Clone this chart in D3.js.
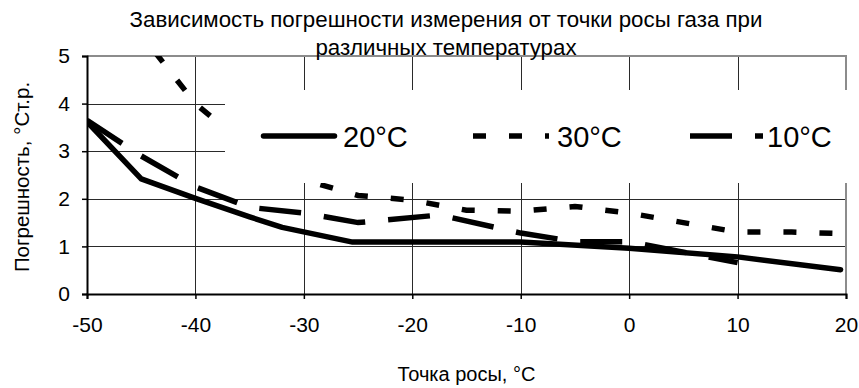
<!DOCTYPE html>
<html>
<head>
<meta charset="utf-8">
<script src="https://cdn.jsdelivr.net/npm/d3@7"></script>
<style>
  html, body { margin: 0; padding: 0; background: #fff; }
  svg { display: block; }
  text { font-family: "Liberation Sans", Arial, sans-serif; fill: #000; }
</style>
</head>
<body>
<script>
// ---- data ----
const titleLines = ["Зависимость погрешности измерения от точки росы газа при", "различных температурах"];
const xTitle = "Точка росы, °C";
const yTitle = "Погрешность, °Ст.р.";
const xTicks = [-50, -40, -30, -20, -10, 0, 10, 20];
const yTicks = [0, 1, 2, 3, 4, 5];
const seriesNames = ["20°C", "30°C", "10°C"];

const dew20 = [-50, -45, -40, -35, -32, -25.5, -10, 0, 10, 19.5];
const err20 = [3.62, 2.42, 2.01, 1.62, 1.40, 1.09, 1.09, 0.96, 0.78, 0.51];

const dew30 = [-45, -40, -35, -30, -25, -20, -15, -10, -5, 0, 5, 10, 15, 19.5];
const err30 = [5.45, 4.0, 3.05, 2.4, 2.07, 1.97, 1.76, 1.74, 1.84, 1.70, 1.50, 1.30, 1.30, 1.27];

const dew10 = [-50, -45, -40, -35, -30, -25, -17.5, -10, -5, 0, 10];
const err10 = [3.65, 2.9, 2.25, 1.82, 1.70, 1.50, 1.66, 1.28, 1.10, 1.10, 0.66];

// ---- layout ----
const W = 859, H = 388;
const m = { left: 87, right: 13, top: 56, bottom: 94 };
const pw = W - m.left - m.right, ph = H - m.top - m.bottom;

const svg = d3.select("body").append("svg").attr("width", W).attr("height", H);
svg.append("rect").attr("width", W).attr("height", H).attr("fill", "#fff");

const x = d3.scaleLinear().domain([-50, 20]).range([m.left, m.left + pw]);
const y = d3.scaleLinear().domain([0, 5]).range([m.top + ph, m.top]);

// gridlines
const grid = svg.append("g");
grid.append("g").attr("transform", `translate(0,${m.top + ph})`)
  .call(d3.axisBottom(x).tickValues(xTicks).tickSize(-ph).tickFormat(""))
  .call(g => g.select(".domain").remove())
  .call(g => g.selectAll("line").attr("stroke", "#2a2a2a").attr("shape-rendering", "crispEdges"));
grid.append("g").attr("transform", `translate(${m.left},0)`)
  .call(d3.axisLeft(y).tickValues(yTicks).tickSize(-pw).tickFormat(""))
  .call(g => g.select(".domain").remove())
  .call(g => g.selectAll("line").attr("stroke", "#2a2a2a").attr("shape-rendering", "crispEdges"));

// plot border (top/right gray)
svg.append("path")
  .attr("d", `M${m.left},${m.top}H${m.left + pw}V${m.top + ph}`)
  .attr("fill", "none").attr("stroke", "#8c8c8c").attr("stroke-width", 2)
  .attr("shape-rendering", "crispEdges");

// series
svg.append("clipPath").attr("id", "plotclip")
  .append("rect").attr("x", m.left).attr("y", m.top).attr("width", pw).attr("height", ph);

const line = d3.line().x(d => x(d[0])).y(d => y(d[1]));
const series = [
  { name: seriesNames[0], pts: d3.zip(dew20, err20), dash: null, off: 0, cap: "round", join: "round", len: 71 },
  { name: seriesNames[1], pts: d3.zip(dew30, err30), dash: "13,23", off: 14, cap: "butt", join: "miter", len: 76 },
  { name: seriesNames[2], pts: d3.zip(dew10, err10), dash: "42,23", off: 0, cap: "butt", join: "miter", len: 73 }
];
const lg = svg.append("g").attr("clip-path", "url(#plotclip)");
[series[0], series[2], series[1]].forEach(s => {
  lg.append("path").attr("d", line(s.pts))
    .attr("fill", "none").attr("stroke", "#000").attr("stroke-width", 5.5)
    .attr("stroke-linecap", s.cap).attr("stroke-linejoin", s.join)
    .attr("stroke-dasharray", s.dash).attr("stroke-dashoffset", s.off);
});

// axes
const fmt = d => String(d);
const xAxis = svg.append("g").attr("transform", `translate(0,${m.top + ph})`)
  .call(d3.axisBottom(x).tickValues(xTicks).tickSize(5).tickPadding(14).tickFormat(fmt));
const yAxis = svg.append("g").attr("transform", `translate(${m.left},0)`)
  .call(d3.axisLeft(y).tickValues(yTicks).tickSize(5).tickPadding(12).tickFormat(fmt));
[xAxis, yAxis].forEach(a => {
  a.select(".domain").attr("stroke", "#000").attr("stroke-width", 2);
  a.selectAll(".tick line").attr("stroke", "#000").attr("stroke-width", 1.5);
  a.selectAll(".tick text").attr("font-size", 21).attr("font-family", "Liberation Sans, Arial, sans-serif").attr("fill", "#111");
});
xAxis.selectAll(".tick text").attr("dy", "0.9em");

// legend
const leg = svg.append("g");
leg.append("rect").attr("x", 225).attr("y", 90).attr("width", 627).attr("height", 93).attr("fill", "#fff");
const legX = [261, 473, 690];
const legTextX = [343, 557, 767];
const legY = 136;
series.forEach((s, i) => {
  const x0 = legX[i] + (s.cap === "round" ? 2.5 : 0);
  leg.append("line").attr("x1", x0).attr("x2", x0 + s.len).attr("y1", legY).attr("y2", legY)
    .attr("stroke", "#000").attr("stroke-width", 5.5)
    .attr("stroke-linecap", s.cap).attr("stroke-dasharray", s.dash);
  leg.append("text").attr("x", legTextX[i]).attr("y", legY + 11)
    .attr("font-size", 29).attr("fill", "#111").text(s.name);
});

// titles
const tcx = 446;
svg.append("text").attr("x", tcx).attr("y", 27).attr("text-anchor", "middle")
  .attr("font-size", 22.3).attr("fill", "#111").text(titleLines[0]);
svg.append("text").attr("x", tcx).attr("y", 55).attr("text-anchor", "middle")
  .attr("font-size", 22.3).attr("fill", "#111").text(titleLines[1]);
svg.append("text").attr("x", m.left + pw / 2).attr("y", 381).attr("text-anchor", "middle")
  .attr("font-size", 20).attr("fill", "#111").text(xTitle);
svg.append("text").attr("transform", `translate(29,${m.top + ph / 2 + 2}) rotate(-90)`)
  .attr("text-anchor", "middle").attr("font-size", 20.5).attr("fill", "#111").text(yTitle);
</script>
</body>
</html>
